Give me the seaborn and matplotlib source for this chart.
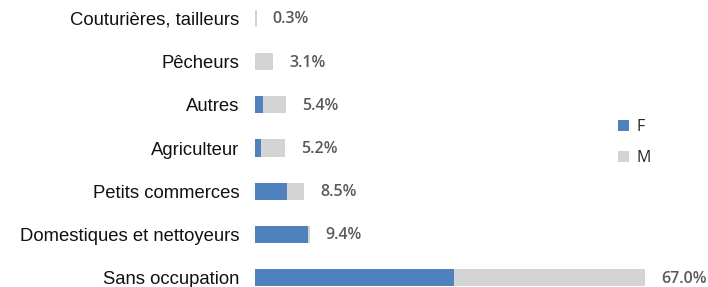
import matplotlib
matplotlib.use("Agg")
import matplotlib.pyplot as plt
import seaborn as sns
import pandas as pd
from matplotlib.patches import Patch
from matplotlib.transforms import offset_copy

categories = ["Couturières, tailleurs", "Pêcheurs", "Autres", "Agriculteur",
              "Petits commerces", "Domestiques et nettoyeurs", "Sans occupation"]
female = [0.0, 0.0, 1.4, 1.0, 5.5, 9.2, 34.2]
male = [0.3, 3.1, 4.0, 4.2, 3.0, 0.2, 32.8]
totals = [0.3, 3.1, 5.4, 5.2, 8.5, 9.4, 67.0]
series_labels = ["F", "M"]

BLUE = "#4f81bd"
GREY = "#d3d4d6"

df = pd.DataFrame({"cat": categories, "F": female, "M": male, "total": totals})
df["stack"] = df["F"] + df["M"]

sns.set_theme(style="white")
plt.rcParams["font.family"] = ["Liberation Sans", "DejaVu Sans"]

fig = plt.figure(figsize=(7.08, 2.87), dpi=100)
ax = fig.add_axes([0.360, 0.0, 0.640, 1.0])

sns.barplot(data=df, y="cat", x="stack", order=categories, color=GREY,
            width=0.394, orient="h", ax=ax, saturation=1, linewidth=0)
sns.barplot(data=df, y="cat", x="F", order=categories, color=BLUE,
            width=0.394, orient="h", ax=ax, saturation=1, linewidth=0)

ax.set_xlim(0, 77.8)
ax.set_ylim(6.22, -0.4285)
ax.set_xlabel("")
ax.set_ylabel("")
ax.set_xticks([])
for s in ax.spines.values():
    s.set_visible(False)
ax.tick_params(axis="y", length=0, pad=11, labelsize=13.3, labelcolor="#111111")

for i, (t, st) in enumerate(zip(totals, df["stack"])):
    tr = offset_copy(ax.transData, fig=fig, x=16, y=-1, units="dots")
    ax.text(st, i, f"{t:.1f}%", transform=tr, ha="left", va="center",
            fontsize=11.5, fontweight="semibold", color="#595959",
            family=["Open Sans", "DejaVu Sans"])

handles = [Patch(facecolor=BLUE, edgecolor="none"), Patch(facecolor=GREY, edgecolor="none")]
leg = fig.legend(handles, series_labels, loc="upper left", bbox_to_anchor=(0.853, 0.635),
                 frameon=False, handlelength=0.7, handleheight=0.7, handletextpad=0.45,
                 labelspacing=0.95, prop={"family": "Open Sans", "size": 11.5})

fig.savefig("out.png", dpi=100)
